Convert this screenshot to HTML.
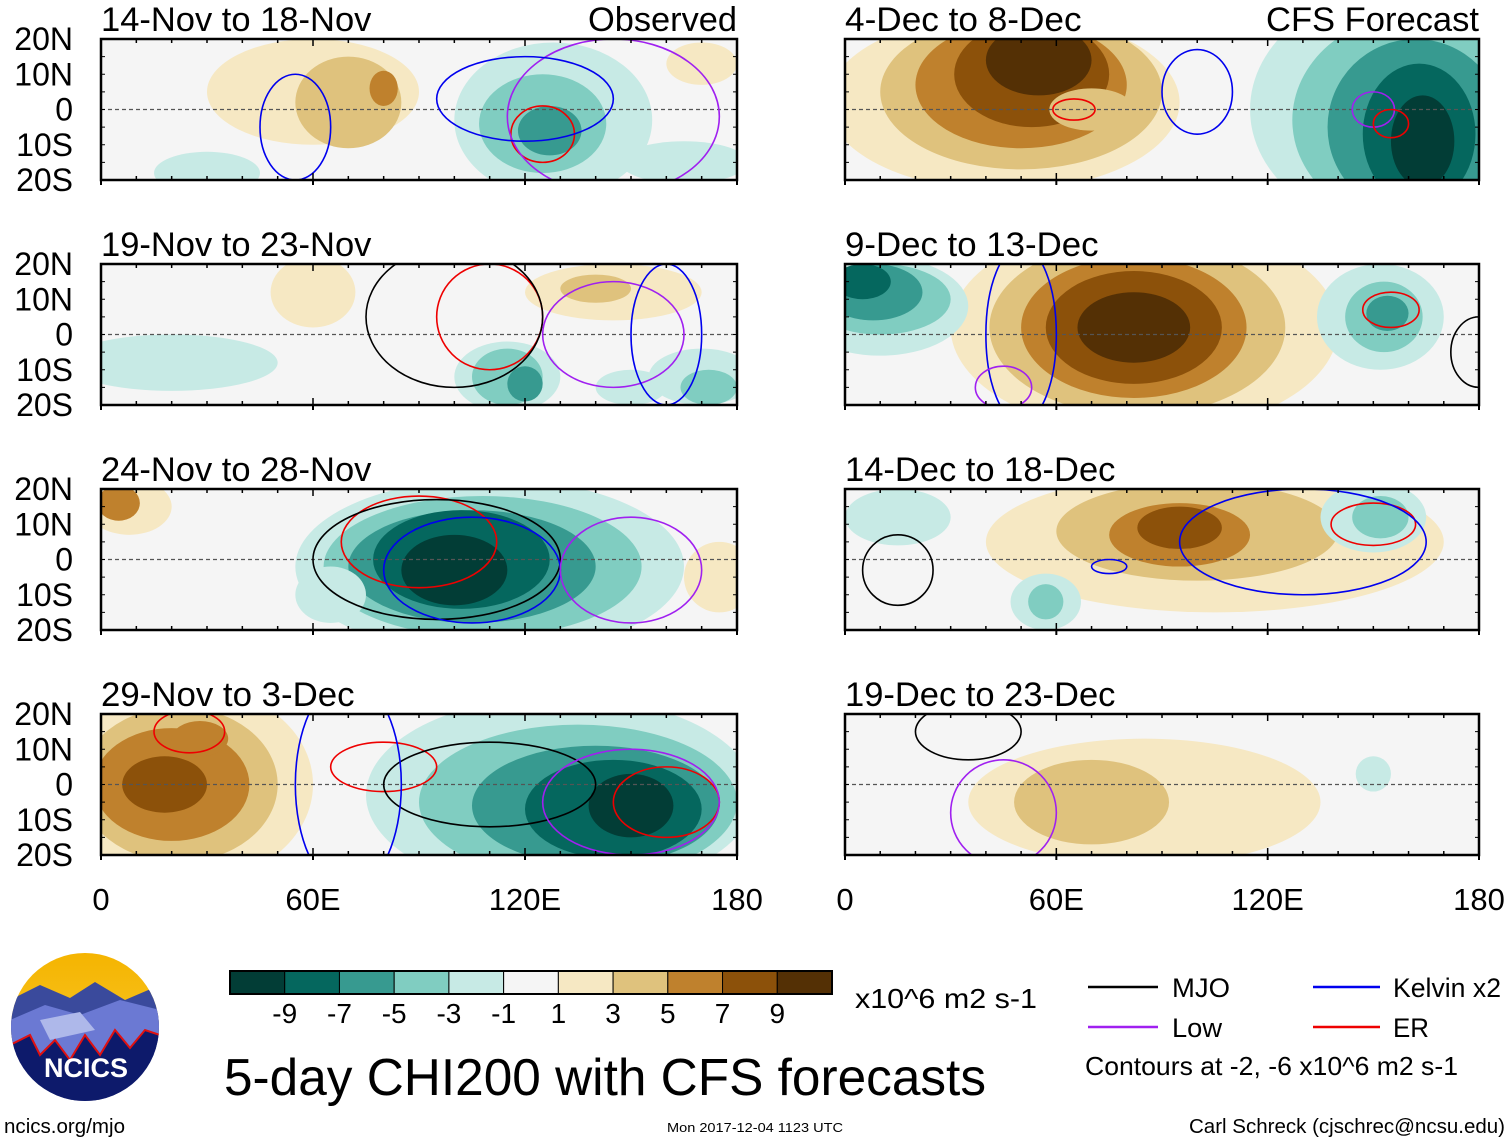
<!DOCTYPE html>
<html><head><meta charset="utf-8"><style>
body{margin:0;background:#fff}
svg{display:block;font-family:"Liberation Sans",sans-serif}
</style></head><body>
<svg id="fig" width="1510" height="1142" viewBox="0 0 1510 1142">
<defs>
<linearGradient id="sky" x1="0" y1="0" x2="0" y2="1"><stop offset="0" stop-color="#f5b400"/><stop offset="1" stop-color="#f7cf3a"/></linearGradient>
<clipPath id="logoclip"><ellipse cx="85" cy="1027" rx="74" ry="74"/></clipPath>
</defs>
<g clip-path="url(#logoclip)">
<rect x="10" y="952" width="150" height="150" fill="url(#sky)"/>
<path d="M10 1000 L40 985 L70 998 L95 982 L125 1000 L160 985 L160 1102 L10 1102Z" fill="#3a4a9c"/>
<path d="M10 1020 L45 1005 L80 1015 L120 1000 L160 1010 L160 1102 L10 1102Z" fill="#6b79d3"/>
<path d="M40 1020 L80 1012 L95 1030 L50 1040Z" fill="#aeb8ea"/>
<path d="M10 1045 L30 1035 L40 1055 L55 1040 L70 1060 L85 1035 L100 1055 L115 1030 L130 1048 L145 1030 L160 1035 L160 1102 L10 1102Z" fill="#0d1a6b" stroke="#e01010" stroke-width="2"/>
<text x="86" y="1077" fill="#fff" font-size="27" font-weight="bold" text-anchor="middle">NCICS</text>
</g>
<g id="panels"></g>
<g id="cbar"></g>
<text x="855" y="1008" font-size="28" textLength="182" lengthAdjust="spacingAndGlyphs">x10^6 m2 s-1</text>
<text x="224" y="1095" font-size="52" textLength="762" lengthAdjust="spacingAndGlyphs">5-day CHI200 with CFS forecasts</text>
<g>
<line x1="1088" y1="987" x2="1158" y2="987" stroke="#000" stroke-width="2.5"/><text x="1172" y="997" font-size="27" textLength="58" lengthAdjust="spacingAndGlyphs">MJO</text>
<line x1="1313" y1="987" x2="1380" y2="987" stroke="#0000ee" stroke-width="2.5"/><text x="1393" y="997" font-size="27" textLength="108" lengthAdjust="spacingAndGlyphs">Kelvin x2</text>
<line x1="1088" y1="1027" x2="1158" y2="1027" stroke="#a020f0" stroke-width="2.5"/><text x="1172" y="1037" font-size="27" textLength="50" lengthAdjust="spacingAndGlyphs">Low</text>
<line x1="1313" y1="1027" x2="1380" y2="1027" stroke="#ee0000" stroke-width="2.5"/><text x="1393" y="1037" font-size="27" textLength="36" lengthAdjust="spacingAndGlyphs">ER</text>
<text x="1085" y="1075" font-size="26" textLength="373" lengthAdjust="spacingAndGlyphs">Contours at -2, -6 x10^6 m2 s-1</text>
</g>
<text x="4" y="1133" font-size="20" textLength="121" lengthAdjust="spacingAndGlyphs">ncics.org/mjo</text>
<text x="667" y="1132" font-size="13" textLength="176" lengthAdjust="spacingAndGlyphs">Mon 2017-12-04 1123 UTC</text>
<text x="1189" y="1133" font-size="20" textLength="316" lengthAdjust="spacingAndGlyphs">Carl Schreck (cjschrec@ncsu.edu)</text>
</svg>
<script>
const levels=[-9,-7,-5,-3,-1,1,3,5,7,9];
const colors=["#023d36","#05675e","#379a90","#80cdc1","#c7eae5","#f5f5f5","#f6e8c3","#dfc27d","#bf812d","#8c510a","#543005"];
const titles=["14-Nov to 18-Nov","4-Dec to 8-Dec","19-Nov to 23-Nov","9-Dec to 13-Dec","24-Nov to 28-Nov","14-Dec to 18-Dec","29-Nov to 3-Dec","19-Dec to 23-Dec"];
const xTicks=[0,60,120,180];
const xTickLabels=["0","60E","120E","180"];
const yTickLabels=["20N","10N","0","10S","20S"];
// blobs per panel: [lon, lat, rxDeg, ryDeg, colorIndex]
const blobs0=[[60,5,30,15,6],[70,2,15,13,7],[80,6,4,5,8],[170,13,10,6,6],[128,-3,28,22,4],[125,-4,18,14,3],[127,-6,9,7,2],[165,-15,18,6,4],[30,-18,15,6,4]];
const blobs1=[[45,2,50,25,6],[50,5,40,22,7],[50,7,30,18,8],[53,10,22,15,9],[55,14,15,10,10],[160,0,45,35,4],[162,-3,35,30,3],[162,-5,25,25,2],[163,-7,16,20,1],[164,-9,9,13,0],[70,0,12,6,7]];
const blobs2=[[20,-8,30,8,4],[60,12,12,10,6],[145,12,25,8,6],[140,13,10,4,7],[115,-12,15,10,4],[115,-12,10,8,3],[120,-14,5,5,2],[170,-12,15,8,4],[172,-15,8,5,3],[150,-15,10,5,4]];
const blobs3=[[85,2,55,30,6],[83,2,42,25,7],[82,2,32,20,8],[82,2,25,16,9],[82,2,16,10,10],[10,8,25,14,4],[10,10,20,10,3],[8,12,14,8,2],[5,15,8,5,1],[152,5,18,15,4],[153,5,11,10,3],[154,6,6,5,2]];
const blobs4=[[110,-2,55,25,4],[108,-2,45,20,3],[105,-2,35,16,2],[102,0,25,14,1],[100,-3,15,10,0],[8,15,12,8,6],[5,16,6,5,8],[175,-5,10,10,6],[65,-10,10,8,4]];
const blobs5=[[105,5,65,20,6],[100,8,40,14,7],[95,7,20,9,8],[95,9,12,6,9],[57,-12,10,8,4],[57,-12,5,5,3],[150,12,15,10,4],[152,12,8,6,3],[15,12,15,8,4]];
const blobs6=[[25,0,35,28,6],[22,0,28,22,7],[20,0,22,16,8],[18,0,12,8,9],[130,-3,55,28,4],[135,-5,45,22,3],[140,-6,35,17,2],[145,-7,25,14,1],[150,-6,12,9,0],[28,13,8,5,8]];
const blobs7=[[85,-5,50,18,6],[70,-5,22,12,7],[150,3,5,5,4]];
const allBlobs=[blobs0,blobs1,blobs2,blobs3,blobs4,blobs5,blobs6,blobs7];
// contours per panel: [lon, lat, rxDeg, ryDeg, kind]
const conts=[
[[125,-7,9,8,"er"],[145,-2,30,22,"low"],[120,3,25,12,"kelvin"],[55,-5,10,15,"kelvin"]],
[[65,0,6,3,"er"],[150,0,6,5,"low"],[155,-4,5,4,"er"],[100,5,10,12,"kelvin"]],
[[110,5,15,15,"er"],[100,5,25,20,"mjo"],[145,0,20,15,"low"],[160,0,10,20,"kelvin"]],
[[155,7,8,5,"er"],[50,0,10,25,"kelvin"],[180,-5,8,10,"mjo"],[45,-15,8,6,"low"]],
[[90,5,22,13,"er"],[95,0,35,17,"mjo"],[105,-3,25,15,"kelvin"],[150,-3,20,15,"low"]],
[[150,10,12,6,"er"],[130,5,35,15,"kelvin"],[75,-2,5,2,"kelvin"],[15,-3,10,10,"mjo"]],
[[25,15,10,6,"er"],[80,5,15,7,"er"],[110,0,30,12,"mjo"],[160,-5,15,10,"er"],[150,-5,25,15,"low"],[70,0,15,30,"kelvin"]],
[[45,-8,15,15,"low"],[35,15,15,8,"mjo"]]
];
const ccol={er:"#ee0000",low:"#a020f0",kelvin:"#0000ee",mjo:"#000"};
const NS="http://www.w3.org/2000/svg";
const panels=document.getElementById('panels');
function mk(tag,attrs,parent){const e=document.createElementNS(NS,tag);for(const k in attrs)e.setAttribute(k,attrs[k]);parent.appendChild(e);return e;}
const rowTop=[39,264,489,714];
for(let i=0;i<8;i++){
  const col=i%2,row=Math.floor(i/2);
  const x0=col?845:101,x1=col?1479:737,y0=rowTop[row],y1=y0+141;
  const xs=lon=>x0+(x1-x0)*lon/180;
  const ys=lat=>y0+(y1-y0)*(20-lat)/40;
  const g=mk('g',{},panels);
  
  
  const cp=mk('clipPath',{id:'cp'+i},g);mk('rect',{x:x0,y:y0,width:x1-x0,height:y1-y0},cp);
  const inner=mk('g',{'clip-path':'url(#cp'+i+')'},g);
  mk('rect',{x:x0,y:y0,width:x1-x0,height:y1-y0,fill:colors[5]},inner);
  allBlobs[i].forEach(b=>{
    const e=mk('ellipse',{cx:xs(b[0]),cy:ys(b[1]),rx:b[2]*(x1-x0)/180,ry:b[3]*(y1-y0)/40,fill:colors[b[4]]},inner);
    
    
  });
  mk('line',{x1:x0,y1:ys(0),x2:x1,y2:ys(0),stroke:'#555','stroke-dasharray':'4 3','stroke-width':1.2},inner);
  conts[i].forEach(c=>{
    const e=mk('ellipse',{cx:xs(c[0]),cy:ys(c[1]),rx:c[2]*(x1-x0)/180,ry:c[3]*(y1-y0)/40,fill:'none',stroke:ccol[c[4]],'stroke-width':1.6},inner);
    
    
  });
  mk('rect',{x:x0,y:y0,width:x1-x0,height:y1-y0,fill:'none',stroke:'#000','stroke-width':2.5},g);
  for(let l=0;l<=180;l+=10){const L=l%60==0?7:4;
    mk('line',{x1:xs(l),y1:y0,x2:xs(l),y2:y0+L,stroke:'#000','stroke-width':1.5},g);
    mk('line',{x1:xs(l),y1:y1,x2:xs(l),y2:y1-L,stroke:'#000','stroke-width':1.5},g);
    mk('line',{x1:xs(l),y1:y1,x2:xs(l),y2:y1+(l%60==0?5:0),stroke:'#000','stroke-width':2},g);}
  for(let la=-20;la<=20;la+=5){mk('line',{x1:x0,y1:ys(la),x2:x0+4,y2:ys(la),stroke:'#000'},g);mk('line',{x1:x1,y1:ys(la),x2:x1-4,y2:ys(la),stroke:'#000'},g);}
  const t=mk('text',{x:x0,y:y0-8,'font-size':34,textLength:titles[i].length*16.9,lengthAdjust:'spacingAndGlyphs'},g);t.textContent=titles[i];
  
  
  if(i<2){const s=mk('text',{x:x1,y:y0-8,'font-size':34,'text-anchor':'end',textLength:i==0?149:213,lengthAdjust:'spacingAndGlyphs'},g);s.textContent=i==0?'Observed':'CFS Forecast';
    
    }
  if(col==0){yTickLabels.forEach((lb,k)=>{const la=20-10*k;const tt=mk('text',{x:73,y:ys(la)+11,'font-size':32,'text-anchor':'end'},g);tt.textContent=lb;
    
    });}
  if(row==3){xTicks.forEach((lv,k)=>{const tt=mk('text',{x:xs(lv),y:910,'font-size':31,'text-anchor':'middle'},g);tt.textContent=xTickLabels[k];
    
    });}
}
const cb=document.getElementById('cbar');
const bw=(832-230)/11;
colors.forEach((c,k)=>{const r=mk('rect',{x:230+k*bw,y:971,width:bw,height:23,fill:c,stroke:'#000','stroke-width':1},cb);
  
  });
mk('rect',{x:230,y:971,width:602,height:23,fill:'none',stroke:'#000','stroke-width':2},cb);
levels.forEach((lv,k)=>{const t=mk('text',{x:230+(k+1)*bw,y:1023,'font-size':28,'text-anchor':'middle'},cb);t.textContent=lv;
  
  });
</script>
</body></html>
